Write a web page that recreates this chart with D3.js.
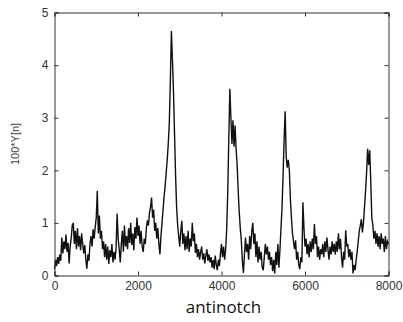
<!DOCTYPE html>
<html>
<head>
<meta charset="utf-8">
<script src="https://cdn.jsdelivr.net/npm/d3@7"></script>
<style>
  html, body { margin: 0; padding: 0; background: #fff; }
  svg { display: block; }
</style>
</head>
<body>
<svg id="chart" width="403" height="322"></svg>
<script>
// Sample step between values (samples)
const sampleStep = 25;

// Signal values (100*Y[n]), one every 25 samples
const signalValues = [
  0.12, 0.3, 0.18, 0.35, 0.22, 0.4, 0.28, 0.72, 0.42, 0.65,
  0.5, 0.78, 0.45, 0.62, 0.23, 0.55, 0.7, 0.95, 1.0, 0.6,
  0.85, 0.5, 0.9, 0.55, 0.75, 0.48, 0.8, 0.6, 0.42, 0.58,
  0.3, 0.13, 0.4, 0.28, 0.6, 0.75, 0.55, 0.88, 0.7, 0.92,
  1.1, 1.61, 0.8, 1.14, 0.7, 0.85, 0.5, 0.65, 0.35, 0.6,
  0.3, 0.55, 0.22, 0.48, 0.35, 0.6, 0.25, 0.45, 0.3, 0.52,
  1.18, 0.7, 0.5, 0.25, 0.6, 0.85, 0.45, 0.95, 0.55, 0.75,
  0.5, 0.9, 0.62, 1.0, 0.58, 0.8, 0.48, 0.92, 0.7, 1.1,
  0.75, 0.95, 0.6, 0.85, 0.55, 0.45, 0.7, 0.6, 0.9, 1.05,
  0.95, 1.2, 1.3, 1.48, 1.1, 1.25, 0.85, 1.0, 0.7, 0.9,
  0.6, 0.4, 0.75, 1.0, 1.25, 1.5, 1.7, 1.95, 2.2, 2.5,
  2.9, 3.7, 4.65, 4.1, 3.5, 2.7, 1.9, 1.3, 0.95, 0.75,
  0.55, 0.85, 1.04, 0.6, 0.8, 0.48, 0.75, 0.5, 0.85, 0.45,
  0.7, 0.55, 1.0, 0.65, 0.8, 0.43, 0.6, 0.35, 0.5, 0.3,
  0.45, 0.55, 0.3, 0.42, 0.23, 0.38, 0.5, 0.28, 0.4, 0.25,
  0.35, 0.15, 0.3, 0.12, 0.38, 0.2, 0.1, 0.3, 0.18, 0.42,
  0.6, 0.35, 0.55, 0.3, 0.5, 0.9, 1.6, 2.6, 3.55, 3.0,
  2.5, 2.95, 2.45, 2.85, 2.4, 2.1, 1.6, 1.2, 0.9, 0.66,
  0.28, 0.05, 0.4, 0.72, 0.45, 0.6, 0.3, 0.75, 0.5, 0.85,
  1.0, 0.6, 0.8, 0.35, 0.65, 0.25, 0.55, 0.3, 0.45, 0.15,
  0.1, 0.35, 0.6, 0.4, 0.55, 0.3, 0.45, 0.2, 0.35, 0.08,
  0.3, 0.04, 0.45, 0.2, 0.6, 0.15, 0.5, 0.9, 1.3, 1.9,
  2.6, 3.12, 2.25, 2.05, 2.2, 2.0, 1.45, 1.1, 0.8, 0.65,
  0.5, 0.67, 0.3, 0.45, 0.2, 0.12, 0.35, 0.25, 1.39, 0.9,
  0.55, 0.7, 0.4, 0.6, 0.35, 0.65, 0.45, 0.7, 0.5, 0.98,
  0.6, 0.75, 0.35, 0.55, 0.3, 0.5, 0.4, 0.6, 0.35, 0.65,
  0.45, 0.72, 0.5, 0.3, 0.55, 0.4, 0.65, 0.45, 0.6, 0.4,
  0.65, 0.45, 0.8, 0.5, 0.7, 0.35, 0.15, 0.45, 0.3, 0.86,
  0.55, 0.6, 0.35, 0.5, 0.3, 0.45, 0.04, 0.2, 0.1, 0.3,
  0.45, 0.65, 0.85, 0.95, 1.07, 0.82, 1.0, 1.3, 1.6, 1.95,
  2.41, 2.1, 2.38, 1.8, 1.1, 0.96, 0.7, 0.85, 0.6, 0.8,
  0.55, 0.75, 0.5, 0.8, 0.6, 0.7, 0.45, 0.75, 0.5, 0.65, 0.6
];

const xTicks = [0, 2000, 4000, 6000, 8000];
const yTicks = [0, 1, 2, 3, 4, 5];
const xDomain = [0, 8000];
const yDomain = [0, 5];
const yLabel = "100*Y[n]";
const title = "antinotch";

const svg = d3.select("#chart");
const mLeft = 54.5, mRight = 388.5, mTop = 12.5, mBottom = 275.5;

const x = d3.scaleLinear().domain(xDomain).range([mLeft, mRight]);
const y = d3.scaleLinear().domain(yDomain).range([mBottom, mTop]);

const data = signalValues.map((v, i) => ({ n: i * sampleStep, v }));

// signal line
svg.append("path")
  .datum(data)
  .attr("fill", "none")
  .attr("stroke", "#111")
  .attr("stroke-width", 1.4)
  .attr("stroke-linejoin", "miter")
  .attr("d", d3.line().x(d => x(d.n)).y(d => y(d.v)));

const tickLen = 4;
const labelFont = "'Liberation Sans', Arial, sans-serif";

// Axes (ticks inward, MATLAB style)
const xAxisB = d3.axisBottom(x).tickValues(xTicks).tickSize(-tickLen).tickPadding(6).tickFormat(d3.format("d"));
const xAxisT = d3.axisTop(x).tickValues(xTicks).tickSize(-tickLen).tickFormat("");
const yAxisL = d3.axisLeft(y).tickValues(yTicks).tickSize(-tickLen).tickPadding(6).tickFormat(d3.format("d"));
const yAxisR = d3.axisRight(y).tickValues(yTicks).tickSize(-tickLen).tickFormat("");

function style(g) {
  g.select(".domain").attr("stroke", "#333").attr("stroke-width", 1);
  g.selectAll(".tick line").attr("stroke", "#333").attr("stroke-width", 1);
  g.selectAll(".tick text").attr("fill", "#333")
    .style("font-family", labelFont).style("font-size", "12px");
}

svg.append("g").attr("transform", `translate(0,${mBottom})`).call(xAxisB).call(style);
svg.append("g").attr("transform", `translate(0,${mTop})`).call(xAxisT).call(style);
svg.append("g").attr("transform", `translate(${mLeft},0)`).call(yAxisL).call(style);
svg.append("g").attr("transform", `translate(${mRight},0)`).call(yAxisR).call(style);

// y label
svg.append("text")
  .attr("transform", `translate(19,144) rotate(-90)`)
  .attr("text-anchor", "middle")
  .attr("fill", "#444")
  .style("font-family", labelFont)
  .style("font-size", "11px")
  .text(yLabel);

// title below
svg.append("text")
  .attr("x", (mLeft + mRight) / 2 + 2)
  .attr("y", 313)
  .attr("text-anchor", "middle")
  .attr("fill", "#111")
  .style("font-family", "'Open Sans', 'Noto Sans', sans-serif")
  .style("font-size", "17px")
  .text(title);
</script>
</body>
</html>
